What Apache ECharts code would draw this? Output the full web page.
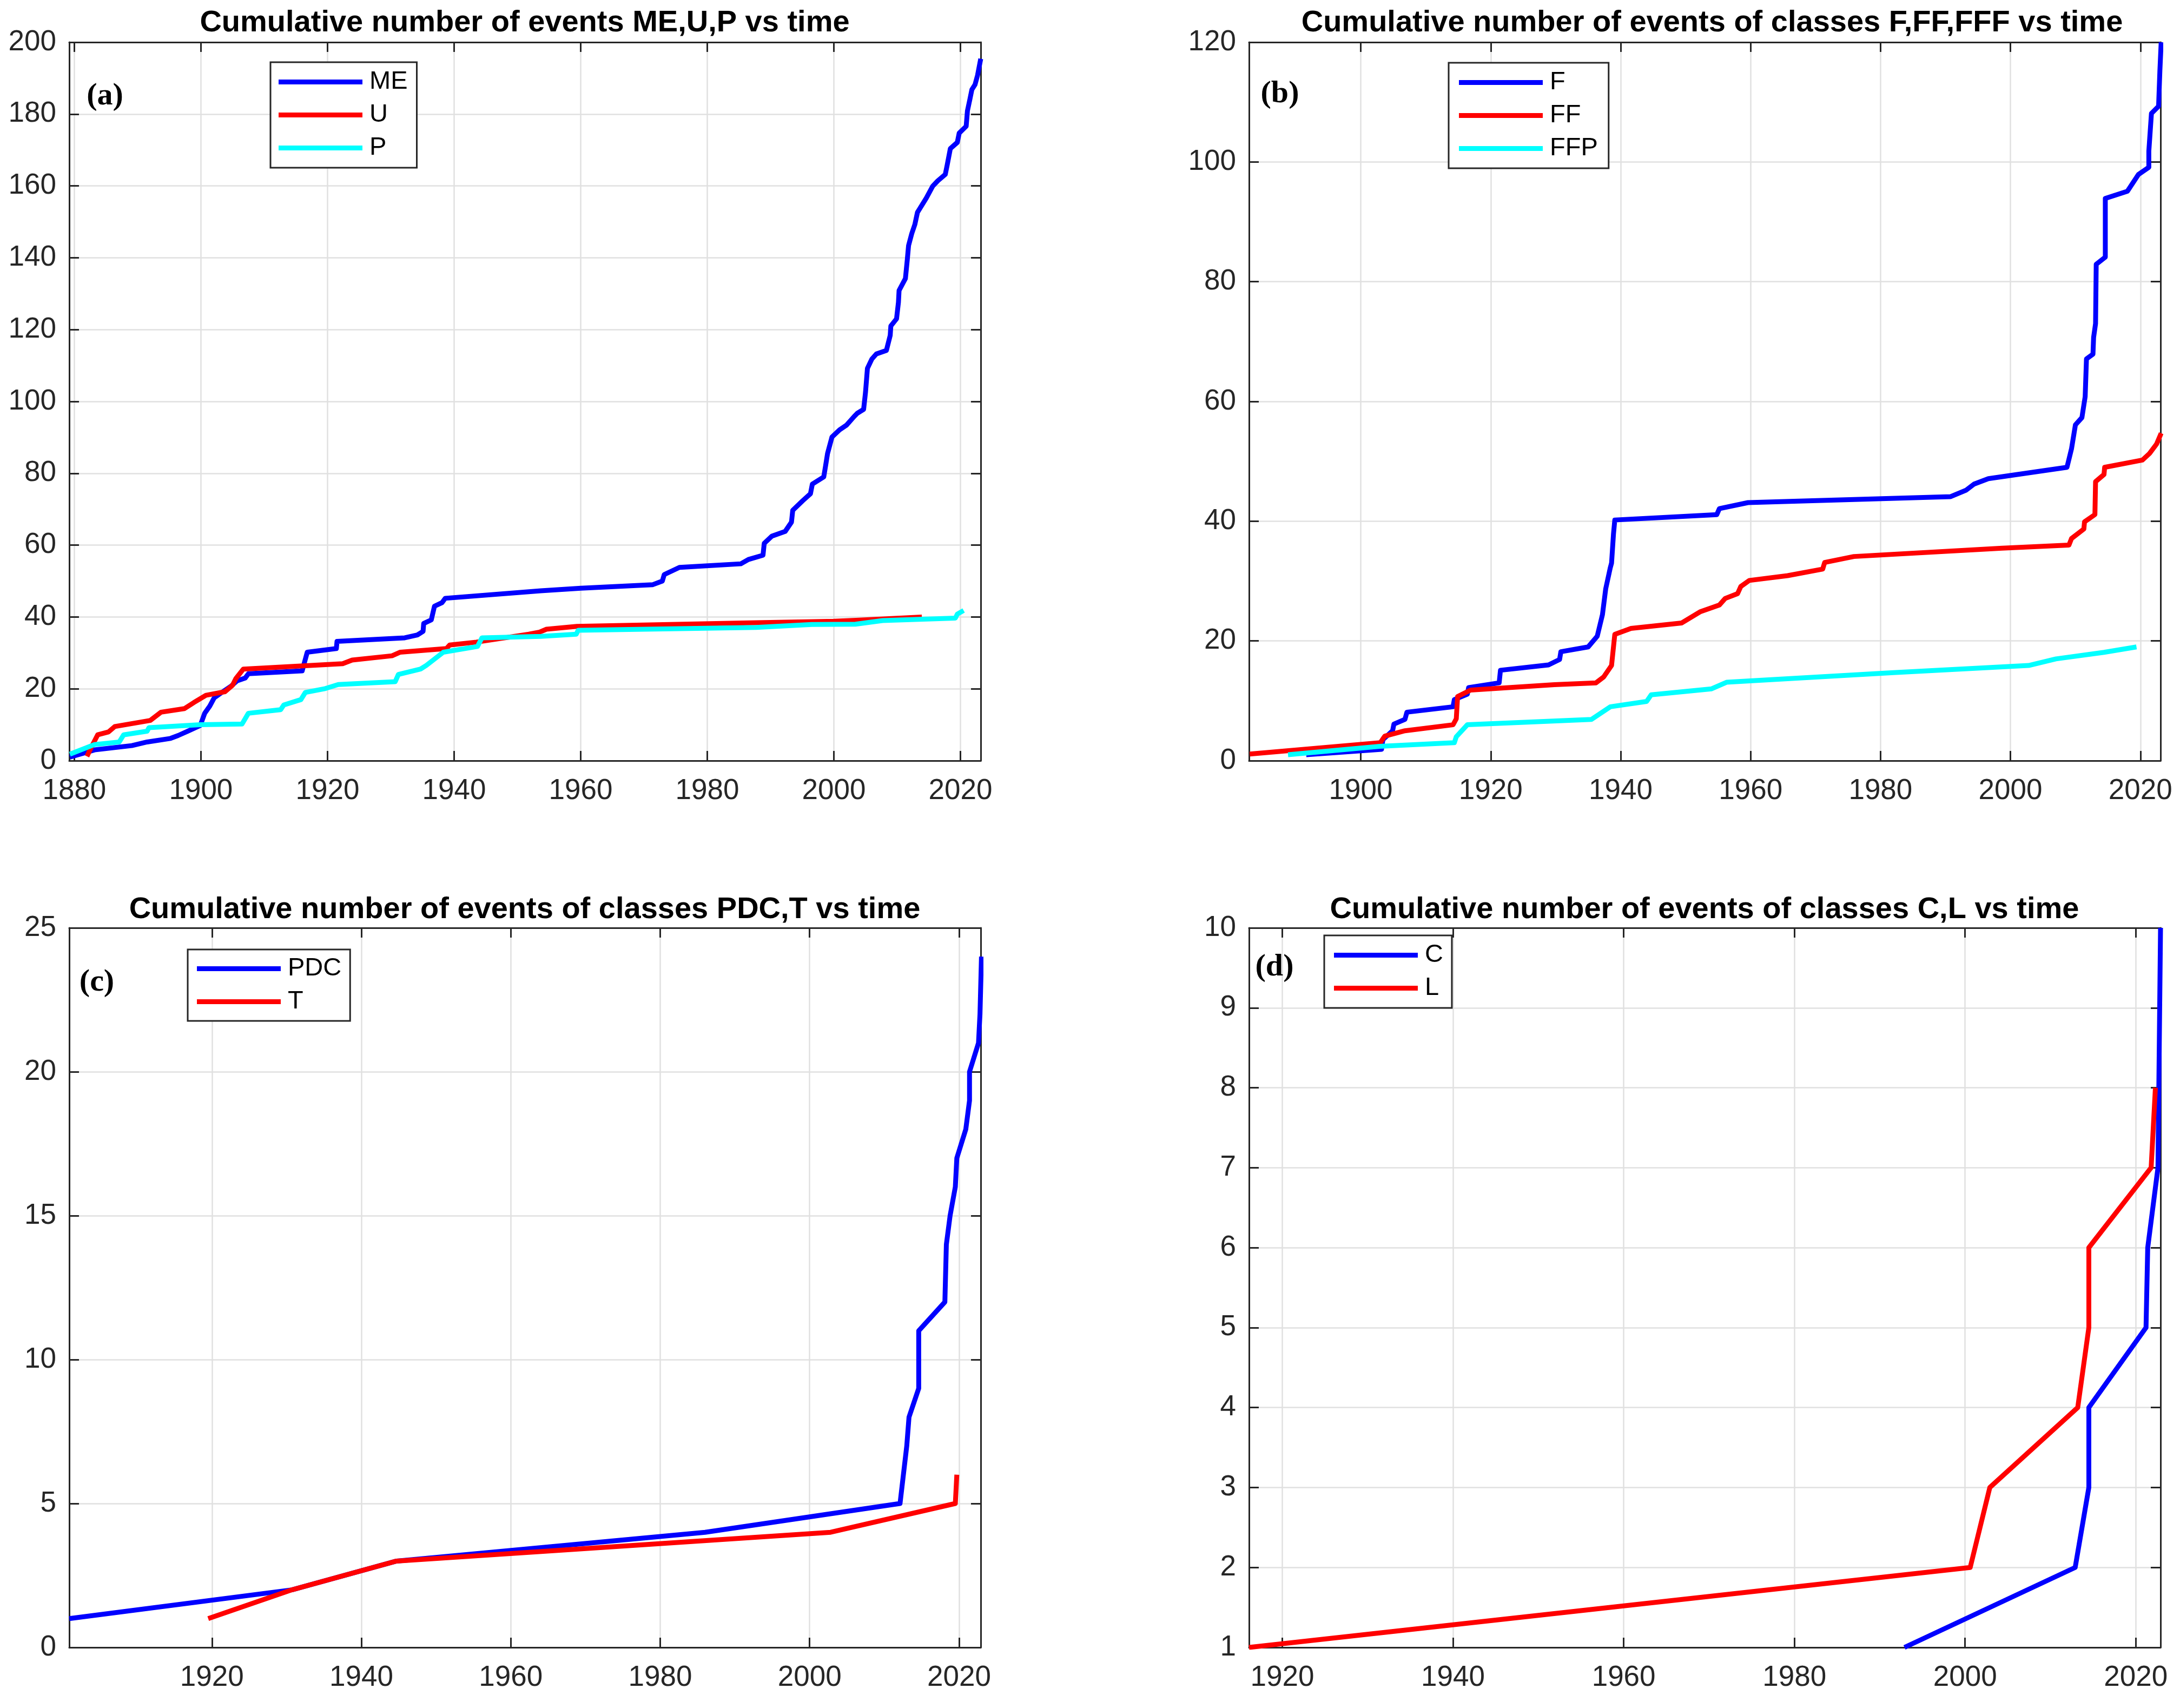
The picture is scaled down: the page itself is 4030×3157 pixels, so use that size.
<!DOCTYPE html>
<html><head><meta charset="utf-8">
<script src="https://cdn.jsdelivr.net/npm/echarts@6/dist/echarts.min.js"></script>
<style>html,body{margin:0;padding:0;background:#fff}#c{width:4030px;height:3157px}</style>
</head><body><div id="c"></div>
<script>
// ---------- Panel (a): ME, U, P ----------
const meYears = [1879.3,1883.2,1889.1,1891.5,1895.2,1896.4,1897.9,1899.9,1900.6,1901.4,1902.1,1903.3,1904.8,1905.7,1907,1907.5,1916,1916.8,1921.4,1921.5,1932.2,1934.2,1935.1,1935.2,1936.4,1936.9,1938.1,1938.6,1953.7,1960,1971.4,1972.9,1973.2,1975.6,1985.3,1986.5,1988.8,1989,1990.2,1992.3,1993.3,1993.5,1995.1,1996.3,1996.6,1998.4,1998.7,1999,1999.7,2000.9,2002,2003.2,2003.7,2004.7,2005,2005.3,2006,2006.7,2008.3,2008.9,2009,2009.9,2010.2,2010.3,2011.3,2011.6,2011.8,2012.3,2012.8,2013.2,2013.9,2014.6,2015.6,2016.4,2017.6,2017.9,2018.4,2019.5,2019.8,2020.9,2021.1,2021.5,2021.8,2022.3,2022.7,2023.2];
const meCounts = [1,3,4.2,5.2,6.2,7,8.2,9.8,13.2,15.2,17.5,19,20.8,22.2,23,24.2,25,30.2,31.2,33.2,34.2,35,36,38.2,39.2,43,44,45.2,47.3,48,49,50,51.8,53.8,54.8,56,57.2,60.5,62.5,63.8,66.4,69.7,72.4,74.3,77,79,82.2,85.5,90.1,92.1,93.4,95.8,96.7,97.8,102.6,109.2,111.8,113.2,114.2,118.4,121,123,127.6,130.9,134.2,139.5,143.4,146.7,149.3,152.6,154.6,156.6,159.9,161.4,163.2,165.8,170.4,172.1,174.7,176.6,180.9,184.2,186.8,188.2,190.8,195.4];
const uYears = [1882,1882.7,1883.7,1885.4,1886.4,1892,1893.7,1897.4,1898.9,1900.8,1903.8,1905,1905.5,1906.7,1922.4,1923.9,1930.2,1931.5,1938.8,1939.3,1943.5,1951.8,1953.5,1954.6,1959.4,1987.7,2000,2003.5,2013.9];
const uCounts = [1.2,3.8,7.2,8,9.5,11.2,13.5,14.5,16.2,18.2,19.2,21,22.8,25.5,27,28,29.2,30.2,31.2,32.2,33,35.2,35.8,36.6,37.4,38.4,38.8,39.1,40];
const pYears = [1879.3,1883.2,1887.1,1887.8,1891.5,1891.8,1899.9,1906.5,1907.5,1912.6,1913.1,1915.8,1916.5,1919.5,1921.7,1930.7,1931.2,1934.7,1935.6,1938.3,1943.7,1944.4,1953.7,1959.3,1959.6,1987.7,1996.5,2003.4,2007.7,2019.2,2019.5,2020.5];
const pCounts = [1.8,4.5,5.2,7.2,8.2,9.2,10,10.2,13.2,14.2,15.5,17,19,20,21.2,22,24,25.5,26.5,30.2,31.8,34.2,34.6,35.2,36.3,37.1,37.9,38,39,39.7,40.8,41.8];

// ---------- Panel (b): F, FF, FFP ----------
const fYears = [1891.6,1903.2,1903.4,1904.9,1905.1,1906.8,1907.1,1914.2,1914.4,1916.4,1916.6,1921.3,1921.5,1928.9,1930.6,1930.8,1935,1936.4,1937.2,1937.7,1938.4,1938.6,1938.9,1939.1,1954.8,1955.2,1959.6,1990.8,1993.2,1994.4,1996.6,2008.7,2009.4,2010,2011,2011.5,2011.7,2012.7,2012.8,2013.1,2013.2,2014.6,2014.6,2018,2019.7,2021.3,2021.3,2021.7,2022.8,2023,2023.2];
const fCounts = [1,1.9,3.5,5,6.1,6.9,8.1,9,10.2,11.1,12.2,13,15.1,16,16.9,18.2,19,20.8,24.4,28.7,32.2,33,37.9,40.2,41.1,42.1,43.1,44.1,45.2,46.2,47.1,49,52.1,56.1,57.3,60.8,67.1,67.9,70.7,73,82.9,84.1,93.9,95.1,97.9,99.1,101.8,108.1,109.3,115.2,120];
const ffYears = [1882.9,1903,1903.7,1906.8,1914.2,1914.7,1914.9,1916.9,1929.8,1936.2,1937.4,1938.6,1939.1,1941.6,1949.4,1952.3,1955.2,1956.1,1958,1958.5,1959.8,1965.7,1971.1,1971.4,1975.9,1998.7,2009,2009.4,2011.3,2011.4,2013,2013.1,2014.4,2014.5,2020.3,2021.4,2022.5,2023.2];
const ffCounts = [1.1,3,4.1,5,6,7,10.7,11.8,12.7,13,14,15.9,21.1,22.1,23,24.9,26,27.1,27.9,29.1,30.1,30.9,32,33.1,34.1,35.5,36,37.1,38.7,39.9,41.1,46.6,47.8,49,50.2,51.3,52.9,54.7];
const ffpYears = [1888.8,1902.9,1914.4,1914.7,1916.4,1935.5,1938.4,1944,1944.7,1954,1956.3,1982,2002.8,2007,2014.4,2019.4];
const ffpCounts = [1,2.4,3,4,6,6.9,9,9.9,11,12,13.1,14.7,15.9,17,18.1,19];

// ---------- Panel (c): PDC, T ----------
const pdcYears = [1900.9,1930.7,1944.7,1986.0,2012.1,2013,2013.3,2014.6,2014.6,2018.1,2018.3,2018.8,2019.5,2019.7,2020.9,2021.4,2021.4,2022.6,2022.8,2023];
const pdcCounts = [1,2,3,4,5,7,8,9,11,12,14,15,16,17,18,19,20,21,22,24];
const tYears = [1919.5,1930.7,1944.7,2002.8,2019.5,2019.7];
const tCounts = [1,2,3,4,5,6];

// ---------- Panel (d): C, L ----------
const cYears = [1992.9,2012.9,2014.5,2014.5,2021.2,2021.4,2022.6,2022.7,2022.9];
const cCounts = [1,2,3,4,5,6,7,8,10];
const lYears = [1916.1,2000.6,2002.9,2013.2,2014.5,2014.5,2021.8,2022.3];
const lCounts = [1,2,3,4,5,6,7,8];

const titles = [
  'Cumulative number of events ME,U,P vs time',
  'Cumulative number of events of classes F,FF,FFF vs time',
  'Cumulative number of events of classes PDC,T vs time',
  'Cumulative number of events of classes C,L vs time'
];
const panelLabels = ['(a)','(b)','(c)','(d)'];

const BLUE = '#0000ff', RED = '#ff0000', CYAN = '#00ffff';
const FONT = '"Liberation Sans", Arial, Helvetica, sans-serif';
const AX = '#262626';

function zip(xs, ys){ return xs.map((x,i)=>[x, ys[i]]); }

const grids = [
  {left:128, top:78, width:1685, height:1328},
  {left:2309, top:78, width:1685, height:1328},
  {left:128, top:1715, width:1685, height:1330},
  {left:2309, top:1715, width:1685, height:1330}
];
const xr = [[1879.2,2023.2],[1882.8,2023.1],[1900.9,2022.9],[1916.1,2022.9]];
const yr = [[0,200,20],[0,120,20],[0,25,5],[1,10,1]];

const xAxis = [], yAxis = [];
grids.forEach((g, i) => {
  const common = {
    type:'value', gridIndex:i, min:xr[i][0], max:xr[i][1],
    minInterval:20, maxInterval:20,
    axisLine:{show:true, onZero:false, lineStyle:{color:AX, width:3}},
    axisTick:{show:true, inside:true, length:18, lineStyle:{color:AX, width:3}}
  };
  xAxis.push(Object.assign({}, common, {
    position:'bottom',
    axisLabel:{show:true, fontSize:53, color:AX, fontFamily:FONT, margin:30, showMinLabel:false, showMaxLabel:false,
      formatter: v => String(Math.round(v))},
    splitLine:{show:true, lineStyle:{color:'#e0e0e0', width:2.5}}
  }));
  xAxis.push(Object.assign({}, common, {
    position:'top', axisLabel:{show:false}, splitLine:{show:false}
  }));
  const yc = {
    type:'value', gridIndex:i, min:yr[i][0], max:yr[i][1], interval:yr[i][2],
    axisLine:{show:true, onZero:false, lineStyle:{color:AX, width:3}},
    axisTick:{show:true, inside:true, length:18, lineStyle:{color:AX, width:3}}
  };
  yAxis.push(Object.assign({}, yc, {
    position:'left',
    axisLabel:{show:true, fontSize:53, color:AX, fontFamily:FONT, margin:24, formatter: v => String(v)},
    splitLine:{show:true, lineStyle:{color:'#e0e0e0', width:2.5}}
  }));
  yAxis.push(Object.assign({}, yc, {
    position:'right', axisLabel:{show:false}, splitLine:{show:false}
  }));
});

function line(name, color, gi, xs, ys){
  return {
    name, type:'line', xAxisIndex:gi*2, yAxisIndex:gi*2, data:zip(xs, ys),
    showSymbol:false, symbol:'none', color,
    lineStyle:{color, width:9, join:'round'}, itemStyle:{color},
    animation:false, silent:true
  };
}
const series = [
  line('ME', BLUE, 0, meYears, meCounts),
  line('U', RED, 0, uYears, uCounts),
  line('P', CYAN, 0, pYears, pCounts),
  line('F', BLUE, 1, fYears, fCounts),
  line('FF', RED, 1, ffYears, ffCounts),
  line('FFP', CYAN, 1, ffpYears, ffpCounts),
  line('PDC', BLUE, 2, pdcYears, pdcCounts),
  line('T', RED, 2, tYears, tCounts),
  line('C', BLUE, 3, cYears, cCounts),
  line('L', RED, 3, lYears, lCounts)
];

function legend(names, left, top, pad){
  return {
    orient:'vertical', left, top, data:names.map(n=>({name:n, icon:'rect'})),
    itemWidth:155, itemHeight:9, itemGap:14, padding:pad,
    borderColor:AX, borderWidth:3, backgroundColor:'#fff',
    selectedMode:false,
    textStyle:{fontSize:47, color:'#000', fontFamily:FONT, padding:[0,0,0,8]}
  };
}
const legends = [
  legend(['ME','U','P'], 500, 115, [13,17,13,15]),
  legend(['F','FF','FFP'], 2678, 116, [13,20,13,19]),
  legend(['PDC','T'], 347, 1755, [12,16,12,17]),
  legend(['C','L'], 2448, 1729, [13,16,13,18])
];

const titleCenters = [[970,44],[3165,44],[970,1683],[3151,1683]];
const title = titles.map((t,i)=>({
  text:t, left:titleCenters[i][0], top:titleCenters[i][1]-29, textAlign:'center', padding:0,
  textStyle:{fontSize:56, fontWeight:'bold', color:'#000', fontFamily:FONT}
}));

const labelPos = [[194,178],[2366,174],[179,1816],[2356,1788]];
const graphic = panelLabels.map((t,i)=>({
  type:'text', x:labelPos[i][0], y:labelPos[i][1], z:100,
  style:{text:t, font:'bold 58px "Liberation Serif", "Times New Roman", serif', fill:'#000',
    align:'center', verticalAlign:'middle', textAlign:'center', textVerticalAlign:'middle'}
}));

const chart = echarts.init(document.getElementById('c'), null, {renderer:'canvas'});
chart.setOption({
  backgroundColor:'#fff', animation:false,
  title, grid:grids, xAxis, yAxis, series, legend:legends, graphic
});
</script>
</body></html>
